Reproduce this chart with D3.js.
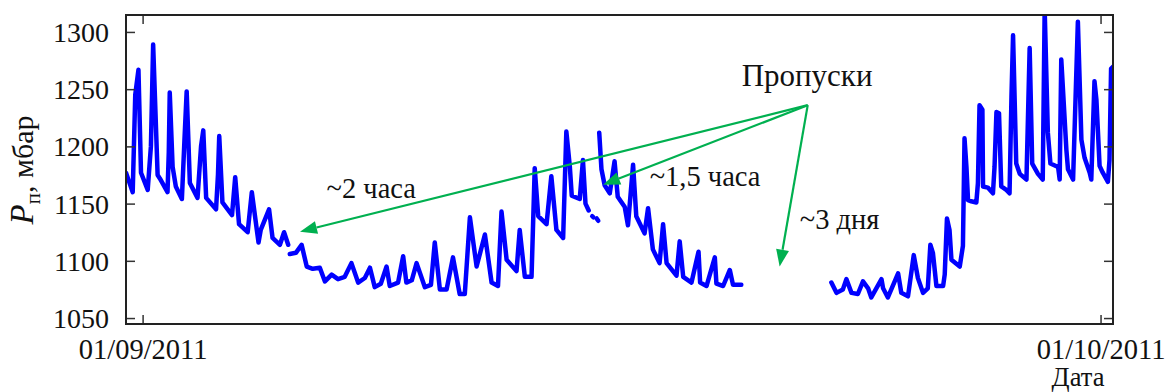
<!DOCTYPE html>
<html><head><meta charset="utf-8">
<script src="https://cdn.jsdelivr.net/npm/d3@7"></script>
<style>
body{margin:0;background:#fff}
svg{display:block}
text{font-family:"Liberation Serif","Times New Roman",serif;fill:#111}
</style>
</head><body>
<svg id="chart" width="1169" height="392"></svg>
<script>
// Days since 01/09/2011 (fractional) and pressure, mbar — four recorded pieces separated by gaps
const segment1 = [[-0.52,1177],[-0.31,1160],[-0.23,1245],[-0.13,1267],[-0.05,1177],[0.16,1162],[0.26,1200],[0.33,1289],[0.47,1175],[0.54,1172],[0.78,1160],[0.82,1195],[0.85,1247],[0.94,1182],[1.04,1165],[1.23,1154],[1.31,1205],[1.38,1248],[1.48,1168],[1.72,1155],[1.83,1200],[1.90,1214],[1.99,1155],[2.30,1145],[2.36,1175],[2.40,1209],[2.50,1151],[2.80,1140],[2.90,1173],[3.02,1132],[3.29,1125],[3.42,1160],[3.63,1116],[3.70,1127],[3.96,1145],[4.07,1120],[4.30,1114],[4.43,1125],[4.56,1114]];
const segment2 = [[4.61,1106],[4.80,1107],[4.98,1114],[5.14,1095],[5.33,1093],[5.55,1094],[5.71,1082],[5.92,1088],[6.12,1084],[6.33,1086],[6.54,1098],[6.75,1081],[6.96,1085],[7.12,1094],[7.27,1077],[7.46,1080],[7.64,1095],[7.74,1078],[8.00,1081],[8.16,1104],[8.26,1081],[8.43,1083],[8.58,1098],[8.84,1077],[9.03,1079],[9.15,1116],[9.31,1075],[9.52,1075],[9.72,1103],[9.93,1071],[10.09,1071],[10.25,1138],[10.46,1095],[10.72,1123],[10.93,1081],[11.13,1078],[11.24,1143],[11.40,1101],[11.71,1091],[11.81,1127],[11.97,1086],[12.18,1086],[12.28,1181],[12.39,1139],[12.65,1132],[12.80,1174],[12.96,1127],[13.17,1120],[13.27,1213],[13.38,1182],[13.44,1157],[13.69,1154],[13.79,1188],[13.87,1150],[13.97,1144]];
const segment2b = [[14.08,1139],[14.12,1138]];
const segment2c = [[14.22,1137],[14.27,1135]];
const segment3 = [[14.30,1212],[14.37,1180],[14.47,1166],[14.63,1159],[14.78,1187],[14.88,1156],[15.10,1147],[15.20,1131],[15.36,1184],[15.46,1139],[15.72,1124],[15.83,1146],[15.98,1110],[16.19,1098],[16.30,1132],[16.41,1098],[16.72,1087],[16.82,1117],[16.93,1086],[17.19,1081],[17.41,1108],[17.46,1081],[17.66,1078],[17.92,1103],[17.97,1080],[18.18,1078],[18.39,1092],[18.49,1079],[18.75,1079]];
const segment4 = [[21.57,1081],[21.73,1072],[21.93,1075],[22.04,1084],[22.20,1072],[22.40,1071],[22.56,1082],[22.72,1076],[22.82,1068],[23.14,1084],[23.19,1076],[23.34,1068],[23.66,1089],[23.76,1072],[23.97,1069],[24.15,1105],[24.28,1085],[24.44,1072],[24.59,1076],[24.67,1114],[24.75,1107],[24.86,1078],[25.07,1078],[25.12,1088],[25.19,1137],[25.27,1127],[25.33,1101],[25.59,1095],[25.69,1113],[25.74,1207],[25.80,1182],[25.85,1153],[25.95,1152],[26.11,1151],[26.16,1168],[26.21,1236],[26.30,1232],[26.32,1165],[26.47,1164],[26.63,1159],[26.68,1182],[26.74,1230],[26.82,1229],[26.89,1165],[27.05,1162],[27.15,1159],[27.21,1243],[27.26,1297],[27.36,1185],[27.47,1176],[27.68,1171],[27.78,1286],[27.86,1185],[28.04,1176],[28.19,1171],[28.25,1320],[28.35,1212],[28.43,1185],[28.67,1182],[28.72,1171],[28.77,1276],[28.93,1197],[28.98,1180],[29.14,1171],[29.29,1309],[29.40,1206],[29.50,1190],[29.66,1177],[29.71,1171],[29.81,1257],[29.87,1241],[29.97,1183],[30.07,1177],[30.23,1169],[30.28,1188],[30.33,1268],[30.41,1270],[30.44,1212]];
const segments = [segment1, segment2, segment2b, segment2c, segment3, segment4];

const yTicks = [1050,1100,1150,1200,1250,1300];
const xTickDays = [0, 30];
const xTickLabels = ["01/09/2011", "01/10/2011"];
const xAxisTitle = "Дата";
const yAxisTitle = ["P", "п", ", мбар"];

// annotation: common origin and arrow tips (day, value)
const arrowOrigin = [20.83, 1236];
const arrowTips = [[4.93, 1125.5], [14.42, 1166.5], [19.95, 1095]];
const noteTexts = ["Пропуски", "~2 часа", "~1,5 часа", "~3 дня"];
const notePositions = [[18.76, 1253], [5.76, 1155], [15.88, 1165.5], [20.58, 1128]];

const svg = d3.select("#chart");
const L = 126, R = 1113, T = 15, B = 324;
const x = d3.scaleLinear().domain([-0.52, 30.39]).range([L, R]);
const y = d3.scaleLinear().domain([1044.8, 1314.8]).range([B, T]);

svg.append("defs").append("clipPath").attr("id","clip")
  .append("rect").attr("x",L).attr("y",T).attr("width",R-L).attr("height",B-T);

const line = d3.line().x(d=>x(d[0])).y(d=>y(d[1]));
svg.append("g").attr("clip-path","url(#clip)")
  .selectAll("path").data(segments).join("path")
  .attr("d", line).attr("fill","none").attr("stroke","#0000ff")
  .attr("stroke-width",4.5).attr("stroke-linejoin","round").attr("stroke-linecap","round");

// axes (ticks inward)
const tl = 9;
const gl = svg.append("g").attr("transform",`translate(${L},0)`)
  .call(d3.axisLeft(y).tickValues(yTicks).tickSize(-tl).tickPadding(tl+8).tickFormat(d3.format("d")));
const gr = svg.append("g").attr("transform",`translate(${R},0)`)
  .call(d3.axisRight(y).tickValues(yTicks).tickSize(-tl).tickFormat(""));
const gb = svg.append("g").attr("transform",`translate(0,${B})`)
  .call(d3.axisBottom(x).tickValues(xTickDays).tickSize(-tl).tickPadding(14.7).tickFormat((d,i)=>xTickLabels[i]));
const gt = svg.append("g").attr("transform",`translate(0,${T})`)
  .call(d3.axisTop(x).tickValues(xTickDays).tickSize(-tl).tickFormat(""));
[gl,gr,gb,gt].forEach(g=>{
  g.select(".domain").remove();
  g.selectAll(".tick line").attr("stroke","#333").attr("stroke-width",1.5);
  g.selectAll("text").attr("font-size",28).attr("font-family","Liberation Serif").attr("fill","#111");
});
gl.selectAll("text").attr("dy","0.34em");
gb.selectAll("text").attr("dy","0.71em").attr("font-size",28.5);

svg.append("rect").attr("x",L).attr("y",T).attr("width",R-L).attr("height",B-T)
  .attr("fill","none").attr("stroke","#222").attr("stroke-width",2);

svg.append("text").attr("x",1078).attr("y",386.3).attr("text-anchor","middle")
  .attr("font-size",26.5).text(xAxisTitle);

const yt = svg.append("text").attr("transform","translate(33,170) rotate(-90)")
  .attr("text-anchor","middle").attr("font-size",30);
yt.append("tspan").attr("font-style","italic").attr("font-size",33).text(yAxisTitle[0]);
yt.append("tspan").attr("font-size",21).attr("dy",7).text(yAxisTitle[1]);
yt.append("tspan").attr("dy",-7).text(yAxisTitle[2]);

// arrows
const green = "#00b050";
const ox = x(arrowOrigin[0]), oy = y(arrowOrigin[1]);
const ag = svg.append("g");
arrowTips.forEach(t=>{
  const tx = x(t[0]), ty = y(t[1]);
  const ang = Math.atan2(ty-oy, tx-ox);
  const hl = 17, hw = 6.5;
  const bx = tx - hl*Math.cos(ang), by = ty - hl*Math.sin(ang);
  ag.append("line").attr("x1",ox).attr("y1",oy).attr("x2",bx).attr("y2",by)
    .attr("stroke",green).attr("stroke-width",2.2);
  const px = -Math.sin(ang), py = Math.cos(ang);
  ag.append("path").attr("d",`M${tx},${ty}L${bx+px*hw},${by+py*hw}L${bx-px*hw},${by-py*hw}Z`)
    .attr("fill",green);
});

svg.selectAll("text.note").data(noteTexts).join("text").attr("class","note")
  .attr("x",(d,i)=>x(notePositions[i][0])).attr("y",(d,i)=>y(notePositions[i][1]))
  .attr("font-size",(d,i)=>i===0?31:28.5).text(d=>d);
</script>
</body></html>
